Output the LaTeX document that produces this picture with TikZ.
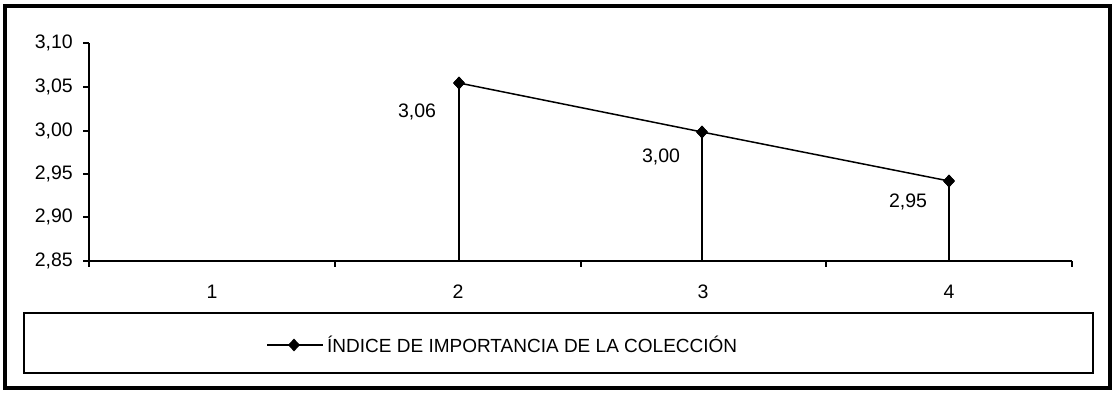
\documentclass[tikz,border=0pt]{standalone}
\usepackage{fontspec}
\setmainfont{Liberation Sans}
\usetikzlibrary{shapes.geometric}
\begin{document}
\begin{tikzpicture}[x=1pt,y=-1pt,
  ln/.style={line width=1.5pt},
  mk/.style={diamond,fill=black,inner sep=0pt,minimum width=12pt,minimum height=13pt},
  numfont/.style={font=\fontsize{19.5}{20}\selectfont,inner sep=0pt},
  ylab/.style={numfont,anchor=east},
  xlab/.style={numfont},
  vlab/.style={numfont}]
\useasboundingbox (0,0) rectangle (1118,393);
% outer frame
\draw[line width=3.5pt] (5,6) rectangle (1110,388);
% axes
\coordinate (o) at (89,261);
\coordinate (ytop) at (89,43);
\coordinate (xend) at (1072,261);
\draw[ln] (ytop) -- (o) -- (xend);
% y ticks and labels
\foreach \y in {43,87,131,174,217,261}{
  \draw[ln] (83,\y) -- (89,\y);
}
\node[ylab] (y1) at (73,43) {3,10};
\node[ylab] (y2) at (73,87) {3,05};
\node[ylab] (y3) at (73,131) {3,00};
\node[ylab] (y4) at (73,174) {2,95};
\node[ylab] (y5) at (73,217) {2,90};
\node[ylab] (y6) at (73,261) {2,85};
% x ticks
\foreach \x in {89,335,581,826,1072}{
  \draw[ln] (\x,261) -- (\x,267);
}
\node[xlab] (x1) at (212,292) {1};
\node[xlab] (x2) at (458,292) {2};
\node[xlab] (x3) at (703,292) {3};
\node[xlab] (x4) at (949,292) {4};
% data
\coordinate (b2) at (459,261);
\coordinate (b3) at (702,261);
\coordinate (b4) at (949,261);
\node[mk] (p2) at (459,83) {};
\node[mk] (p3) at (702,132) {};
\node[mk] (p4) at (949,181) {};
\draw[ln] (p2.center) -- (b2);
\draw[ln] (p3.center) -- (b3);
\draw[ln] (p4.center) -- (b4);
\draw[ln] (p2.center) -- (p3.center) -- (p4.center);
\node[mk] at (459,83) {};
\node[mk] at (702,132) {};
\node[mk] at (949,181) {};
\node[vlab] (l2) at (417,112) {3,06};
\node[vlab] (l3) at (661,157) {3,00};
\node[vlab] (l4) at (908,202) {2,95};
% legend
\draw[line width=1.8pt] (24,313) rectangle (1093,373);
\coordinate (la) at (267,345);
\coordinate (lb) at (323,345);
\draw[ln] (la) -- (lb);
\node[mk] (lm) at (294,345) {};
\node[anchor=west,font=\fontsize{19}{19}\selectfont,inner sep=0pt] (lt) at (327,344) {ÍNDICE DE IMPORTANCIA DE LA COLECCIÓN};
\end{tikzpicture}
\end{document}
